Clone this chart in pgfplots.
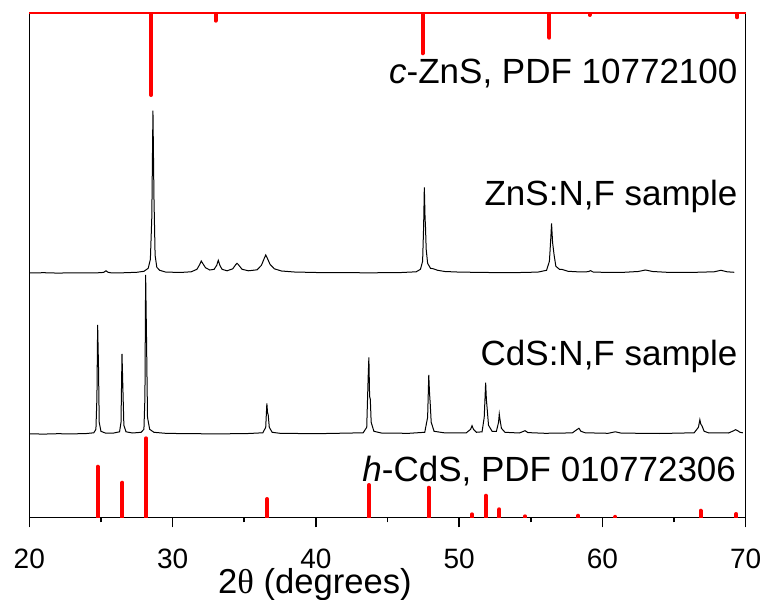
\documentclass[border=0pt]{standalone}
\usepackage{fontspec}
\setmainfont{Liberation Sans}
\newfontfamily\serifgr{Liberation Serif}
\usepackage{pgfplots}
\pgfplotsset{compat=1.18}
\newcommand\tickfont{\fontsize{14}{17}\selectfont}
\begin{document}
\begin{tikzpicture}
\useasboundingbox (-14.65pt,-40.85pt) rectangle (367.35pt,258.65pt);
\begin{axis}[name=ax, at={(0,0)}, anchor=south west,
  scale only axis, width=358.2pt, height=251.9pt,
  xmin=20, xmax=70, ymin=0, ymax=503.8,
  xtick={20,30,...,70}, minor xtick={25,35,45,55,65},
  ytick=\empty, tick align=outside, xtick pos=lower,
  major tick length=5pt, minor tick length=2.5pt,
  every tick/.style={black, line width=0.75pt},
  axis line style={line width=0.75pt},
  xticklabels={{\tickfont 20},{\tickfont 30},{\tickfont 40},{\tickfont 50},{\tickfont 60},{\tickfont 70}},
  xticklabel style={anchor=base, yshift=-20.5pt},
  clip mode=individual, unbounded coords=jump]
% c-ZnS reference sticks (from top)
\addplot[red, line width=2pt, line cap=round] coordinates {
(28.5,503.8) (28.5,422.3) (nan,nan)
(33.0,503.8) (33.0,496.6) (nan,nan)
(47.45,503.8) (47.45,464) (nan,nan)
(56.3,503.8) (56.3,479.6) (nan,nan)
(59.1,503.8) (59.1,502.3) (nan,nan)
(69.4,503.8) (69.4,500)
};
% h-CdS reference sticks (from bottom)
\addplot[red, line width=2pt, line cap=round] coordinates {
(24.77,0) (24.77,50.6) (nan,nan)
(26.49,0) (26.49,34.6) (nan,nan)
(28.14,0) (28.14,79) (nan,nan)
(36.6,0) (36.6,18.3) (nan,nan)
(43.7,0) (43.7,32.3) (nan,nan)
(47.87,0) (47.87,29.6) (nan,nan)
(50.9,0) (50.9,3) (nan,nan)
(51.87,0) (51.87,21.6) (nan,nan)
(52.8,0) (52.8,8) (nan,nan)
(54.6,0) (54.6,1) (nan,nan)
(58.3,0) (58.3,1.6) (nan,nan)
(60.9,0) (60.9,0.5) (nan,nan)
(66.85,0) (66.85,6.6) (nan,nan)
(69.34,0) (69.34,3.3)
};
% ZnS:N,F sample
\addplot[black, line width=0.5pt] coordinates {
(20,244.3) (21,244.6) (22,244.2) (23,244.5) (24,244.3) (25,244.6) (25.2,245) (25.35,246.5) (25.5,245) (25.7,244.5) (26.5,244.5) (27.5,245) (28.0,246) (28.3,249) (28.45,258) (28.55,300) (28.63,406.6) (28.7,320) (28.78,262) (28.9,250) (29.1,247) (29.5,245.3) (30.5,244.8) (31.3,245.5) (31.7,248) (31.9,253) (32.0,256.3) (32.1,254) (32.3,249.5) (32.6,247.3) (32.9,248) (33.08,252) (33.19,257) (33.3,252) (33.45,248) (33.8,246.5) (34.2,248.5) (34.4,252.5) (34.5,254) (34.6,252.5) (34.85,248) (35.3,246.5) (35.9,247.5) (36.2,252) (36.4,259) (36.5,262.3) (36.6,259.5) (36.8,253) (37.1,248.5) (37.6,246.3) (38.5,245.3) (40,244.8) (42,244.6) (44,244.5) (46,244.8) (47,245.5) (47.3,248) (47.45,256) (47.52,290) (47.57,330) (47.62,300) (47.65,291) (47.7,268) (47.8,254) (48.0,249) (48.2,248.5) (48.5,247) (49,245.8) (50,245.2) (52,244.8) (54,244.7) (55.5,245.2) (56.1,247) (56.3,256) (56.4,280) (56.45,294) (56.52,275) (56.57,269) (56.63,262) (56.75,251) (57.0,248) (57.2,247.8) (57.6,246) (58.5,245.3) (59.0,245.6) (59.17,246.6) (59.35,245.3) (60,245) (61.5,245) (62.5,245.8) (63.0,247.3) (63.5,245.8) (64.5,245) (66,244.8) (67.8,245.5) (68.27,247) (68.7,245.5) (69.2,245)
};
% CdS:N,F sample
\addplot[black, line width=0.5pt] coordinates {
(20,83.5) (21,83.2) (22,83.6) (23,83.4) (24,83.8) (24.5,84.5) (24.65,88) (24.72,120) (24.77,192.3) (24.83,150) (24.88,95) (25.0,86) (25.3,84.3) (25.9,84.3) (26.3,85.5) (26.4,95) (26.47,163.3) (26.53,130) (26.6,92) (26.75,85.5) (27.2,84.3) (27.8,85) (28.0,88) (28.07,120) (28.12,242.3) (28.18,180) (28.25,100) (28.4,88) (28.7,85) (29.5,84) (31,83.6) (33,83.5) (35,83.6) (36.3,84.5) (36.5,90) (36.58,114) (36.63,104) (36.67,103) (36.75,90) (36.95,85) (37.5,84) (40,83.6) (43.3,84.5) (43.55,90) (43.65,140) (43.7,160) (43.75,121) (43.8,118) (43.86,95) (44.05,86) (44.6,84.2) (46.5,84) (47.6,85) (47.8,100) (47.88,142.3) (47.93,125) (47.98,114) (48.05,95) (48.25,86) (49,84.4) (50.5,84.5) (50.8,88) (50.9,91.6) (51.0,88) (51.2,85) (51.6,85.5) (51.75,100) (51.85,134.6) (51.9,118) (51.95,109.6) (52.05,92) (52.3,86) (52.6,86) (52.75,95) (52.8,103.3) (52.85,98) (52.95,89) (53.2,85) (54.2,84.3) (54.5,86) (54.6,86.6) (54.8,84.7) (56,84) (57.9,84.4) (58.25,88) (58.36,89) (58.5,86) (58.8,84.5) (60.4,84) (60.9,85.5) (61.3,84.2) (64,83.8) (66.4,84.5) (66.7,90) (66.8,97.6) (66.87,93) (66.93,92) (67.1,86) (67.4,84.5) (68.8,84.3) (69.15,86.5) (69.3,87.6) (69.45,86.5) (69.6,85) (69.8,84.5)
};
\begin{scope}[font=\fontsize{17.5}{21}\selectfont]
\node[anchor=base east, inner sep=0pt] at (axis cs:69.45,434) {\textit{c}-ZnS, PDF 10772100};
\node[anchor=base east, inner sep=0pt] at (axis cs:69.45,311.3) {ZnS:N,F sample};
\node[anchor=base east, inner sep=0pt] at (axis cs:69.45,152.3) {CdS:N,F sample};
\node[anchor=base east, inner sep=0pt] at (axis cs:69.35,36.3) {\textit{h}-CdS, PDF 010772306};
\end{scope}
\end{axis}
\draw[red, line width=1pt] (ax.north west) -- (ax.north east);
\node[anchor=base, inner sep=0pt, font=\fontsize{17.3}{20}\selectfont] at (142.85pt,-38pt) {2{\serifgr θ} (degrees)};
\end{tikzpicture}
\end{document}
